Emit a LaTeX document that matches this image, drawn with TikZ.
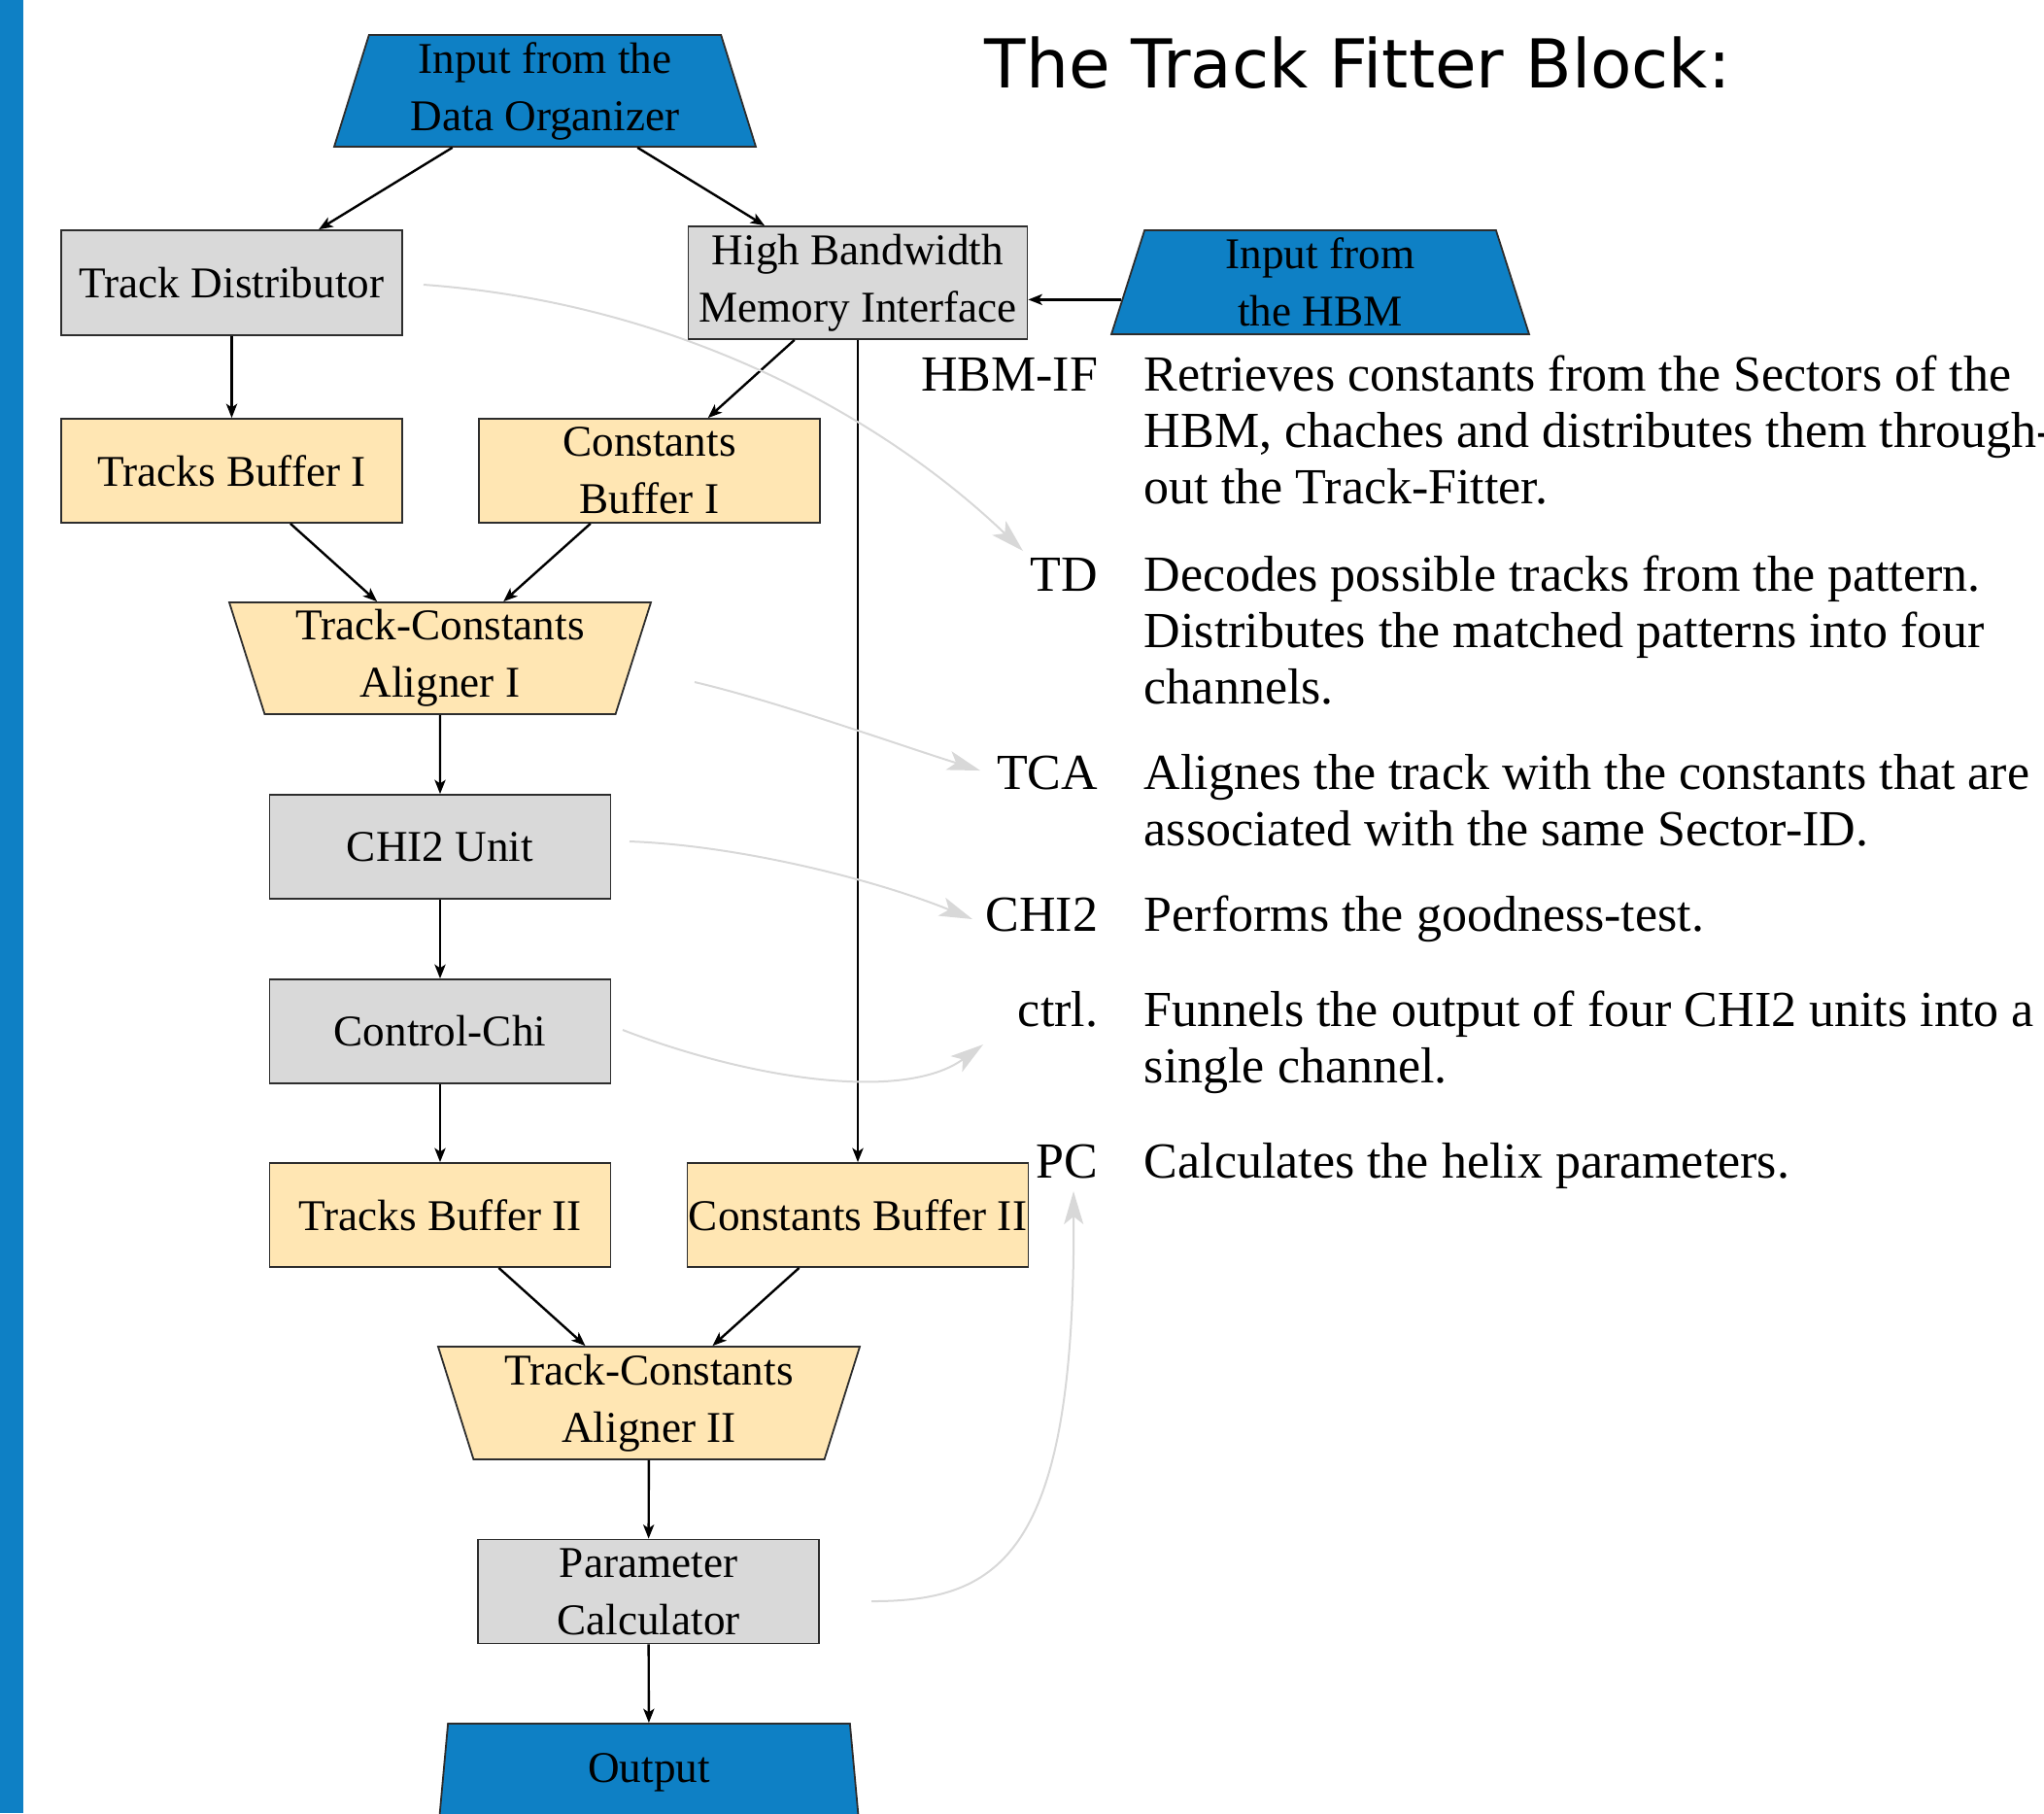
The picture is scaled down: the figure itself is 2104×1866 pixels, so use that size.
\documentclass[tikz,border=0pt]{standalone}
\usepackage{fontspec}
\setmainfont{Liberation Serif}
\newfontfamily\titlefont{DejaVu Sans}
\usetikzlibrary{shapes.geometric,arrows.meta,calc}

\definecolor{hwblue}{RGB}{14,128,197}
\definecolor{bufyellow}{RGB}{255,230,179}
\definecolor{unitgray}{RGB}{217,217,217}
\definecolor{notegray}{RGB}{216,216,216}
\definecolor{edgecol}{RGB}{45,45,45}

% multi-line description whose baseline is its first line
\newcommand\desclines[1]{\begin{tabular}[t]{@{}l@{}}#1\end{tabular}}

\begin{document}
\begin{tikzpicture}[x=0.25pt,y=-0.25pt,
  blockfont/.style={font=\fontsize{11.3}{14.75}\selectfont},
  unit/.style={rectangle, draw=edgecol, line width=0.45pt, fill=unitgray,
    minimum width=87.75pt, minimum height=26.75pt, inner sep=0pt,
    align=center, blockfont},
  buffer/.style={unit, fill=bufyellow},
  trap/.style={trapezium, trapezium stretches body=true, draw=edgecol,
    line width=0.45pt, inner sep=0pt, align=center, blockfont},
  port/.style={trap, fill=hwblue},
  aligner/.style={trap, fill=bufyellow, shape border rotate=180,
    trapezium left angle=70, trapezium right angle=70,
    minimum width=108.5pt, minimum height=28.75pt},
  flow/.style={-{Stealth[length=3.6pt,width=2.8pt,inset=0.9pt]}, line width=0.6pt},
  note/.style={-{Stealth[length=8.5pt,width=5pt,inset=2pt]}, draw=notegray, line width=0.5pt},
  tag/.style={anchor=base east, font=\fontsize{13}{14.5}\selectfont, inner sep=0pt},
  descr/.style={anchor=base west, font=\fontsize{13}{14.5}\selectfont, inner sep=0pt},
]
\useasboundingbox (0,0) rectangle (2104,1866);
\fill[hwblue] (0,0) rectangle (24,1866);

% title
\node[anchor=base west, inner sep=0pt, font=\titlefont\fontsize{17.35}{20}\selectfont]
  (title) at (1013,90) {The Track Fitter Block:};

% blocks
\node[port, minimum width=108.5pt, minimum height=28.75pt,
  trapezium left angle=70.4, trapezium right angle=70.4]
  (dorg) at (561,93.5) {Input from the\\Data Organizer};
\node[unit, minimum height=27pt] (td) at (238.5,291) {Track Distributor};
\node[unit, minimum width=87.25pt, minimum height=29pt] (hbmi) at (883,291)
  {High Bandwidth\\Memory Interface};
\node[port, minimum width=107.5pt, minimum height=26.75pt,
  trapezium left angle=69.5, trapezium right angle=69.5]
  (hbm) at (1359,290.5) {Input from\\the HBM};
\node[buffer] (tb1) at (238.5,484.5) {Tracks Buffer I};
\node[buffer] (cb1) at (668.5,484.5) {Constants\\Buffer I};
\node[aligner] (tca1) at (453,677.5) {Track-Constants\\Aligner I};
\node[unit] (chi) at (453,871.5) {CHI2 Unit};
\node[unit] (ctl) at (453,1061.5) {Control-Chi};
\node[buffer] (tb2) at (453,1250.5) {Tracks Buffer II};
\node[buffer] (cb2) at (883,1250.5) {Constants Buffer II};
\node[aligner, minimum height=29pt] (tca2) at (668,1444) {Track-Constants\\Aligner II};
\node[unit] (pc) at (667.5,1638) {Parameter\\Calculator};
\node[port, minimum width=108pt, minimum height=25pt,
  trapezium left angle=77, trapezium right angle=77]
  (out) at (668,1824) {Output};

% data flow
\coordinate (hbmside) at ($(hbm.bottom left corner)!0.336!(hbm.top left corner)$);
\draw[flow] (dorg) -- (td);
\draw[flow] (dorg) -- (hbmi);
\draw[flow] (hbmside) -- (hbmi.east |- hbmside);
\draw[flow] (td) -- (tb1);
\draw[flow] (hbmi) -- (cb1);
\draw[flow] (tb1) -- (tca1);
\draw[flow] (cb1) -- (tca1);
\draw[flow] (tca1) -- (chi);
\draw[flow] (chi) -- (ctl);
\draw[flow] (ctl) -- (tb2);
\draw[flow] (hbmi) -- (cb2);
\draw[flow] (tb2) -- (tca2);
\draw[flow] (cb2) -- (tca2);
\draw[flow] (tca2) -- (pc);
\draw[flow] (pc) -- (out);

% legend
\node[tag] (lhbm) at (1131,402) {HBM-IF};
\node[descr] (dhbm) at (1177,402) {\desclines{Retrieves constants from the Sectors of the\\HBM, chaches and distributes them through-\\out the Track-Fitter.}};
\node[tag] (ltd) at (1131,608) {TD};
\node[descr] (dtd) at (1177,608) {\desclines{Decodes possible tracks from the pattern.\\Distributes the matched patterns into four\\channels.}};
\node[tag] (ltca) at (1131,812) {TCA};
\node[descr] (dtca) at (1177,812) {\desclines{Alignes the track with the constants that are\\associated with the same Sector-ID.}};
\node[tag] (lchi) at (1131,958) {CHI2};
\node[descr] (dchi) at (1177,958) {\desclines{Performs the goodness-test.}};
\node[tag] (lctl) at (1131,1056) {ctrl.};
\node[descr] (dctl) at (1177,1056) {\desclines{Funnels the output of four CHI2 units into a\\single channel.}};
\node[tag] (lpc) at (1131,1212) {PC};
\node[descr] (dpc) at (1177,1212) {\desclines{Calculates the helix parameters.}};

% pointers from blocks to their legend entries
\coordinate (tdA) at (436,293);   \coordinate (tdB) at (1053,567);
\coordinate (tcaA) at (715,702);  \coordinate (tcaB) at (1009,793);
\coordinate (chiA) at (648,866);  \coordinate (chiB) at (1001,946);
\coordinate (ctlA) at (641,1060); \coordinate (ctlB) at (1012,1075);
\coordinate (pcA) at (897,1648);  \coordinate (pcB) at (1105,1226);
\draw[note] (tdA) .. controls (700,312) and (910,430) .. (tdB);
\draw[note] (tcaA) .. controls (800,722) and (920,765) .. (tcaB);
\draw[note] (chiA) .. controls (760,870) and (900,905) .. (chiB);
\draw[note] (ctlA) .. controls (770,1110) and (930,1135) .. (ctlB);
\draw[note] (pcA) .. controls (1030,1648) and (1107,1600) .. (pcB);
\end{tikzpicture}
\end{document}
